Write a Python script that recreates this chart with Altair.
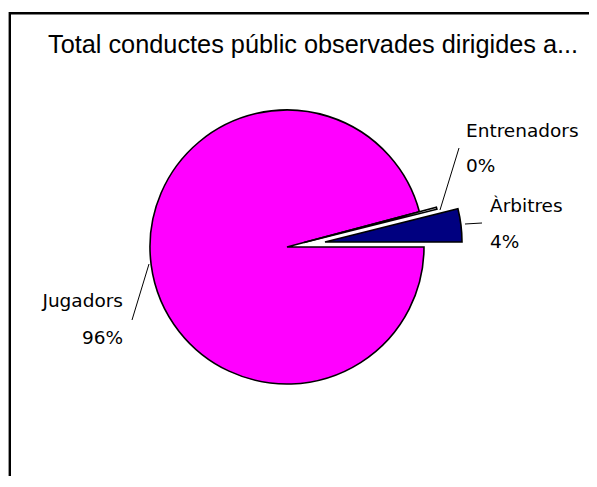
import math
import altair as alt
import pandas as pd

# ---- data ----
categories = ["Jugadors", "Entrenadors", "Àrbitres"]
values = [95.85, 0.25, 3.9]
pct_labels = ["96%", "0%", "4%"]
slice_order = [0, 1, 2]
colors = ["#FF00FF", "#FFFFFF", "#000080"]
title_text = "Total conductes públic observades dirigides a..."

df = pd.DataFrame({"cat": categories, "value": values, "ord": slice_order})
total = float(sum(values))

W, H = 581, 468
CX, CY, R = 279, 239, 137

theta_scale = alt.Scale(domain=[0, total], range=[math.pi / 2, math.pi / 2 + 2 * math.pi])

base = (
    alt.Chart(df)
    .transform_window(cum="sum(value)", sort=[alt.SortField("ord")], frame=[None, 0])
    .transform_calculate(start="datum.cum - datum.value")
)


def slice_layer(i, dx, dy):
    return (
        base.transform_filter(alt.datum.cat == categories[i])
        .mark_arc(fill=colors[i], stroke="black", strokeWidth=1.6,
                  outerRadius=R, xOffset=dx, yOffset=dy)
        .encode(
            theta=alt.Theta("start:Q", scale=theta_scale),
            theta2="cum:Q",
            x=alt.value(CX),
            y=alt.value(CY),
        )
    )


slices = [
    slice_layer(0, 0, 0),
    slice_layer(1, 17, -4.5),
    slice_layer(2, 38, -5),
]

one = alt.Chart(pd.DataFrame({"k": [0]}))

FONT = "DejaVu Sans"
FS = 18.5


def label(text, x, y, align):
    return one.mark_text(text=text, font=FONT, fontSize=FS, align=align,
                         baseline="alphabetic", color="black").encode(
        x=alt.value(x), y=alt.value(y))


def leader(x1, y1, x2, y2):
    return one.mark_rule(color="black", strokeWidth=1).encode(
        x=alt.value(x1), y=alt.value(y1), x2=alt.value(x2), y2=alt.value(y2))


labels = [
    label(categories[1], 458, 129, "left"),
    label(pct_labels[1], 458, 164, "left"),
    label(categories[2], 482, 204, "left"),
    label(pct_labels[2], 482, 240, "left"),
    label(categories[0], 115, 299, "right"),
    label(pct_labels[0], 115, 336, "right"),
]

leaders = [
    leader(451, 140, 432, 202),
    leader(457, 216, 474, 215),
    leader(141, 256, 124, 312),
]

title = one.mark_text(text=title_text, font="Liberation Sans", fontSize=25.3,
                      align="left", baseline="alphabetic", color="black").encode(
    x=alt.value(40), y=alt.value(45))

# frame of the chart: only its top and left edges fall inside the picture
frame = one.mark_rect(fill="transparent", stroke="black", strokeWidth=2.4).encode(
    x=alt.value(1.8), x2=alt.value(W + 60), y=alt.value(5.3), y2=alt.value(H + 60))

chart = (
    alt.layer(*slices, *leaders, *labels, title, frame)
    .properties(width=W, height=H, padding=0, autosize=alt.AutoSizeParams(type="none"),
                background="white")
    .configure_view(strokeWidth=0)
)

chart.save("out.html", embed_options={"renderer": "svg", "actions": False})
